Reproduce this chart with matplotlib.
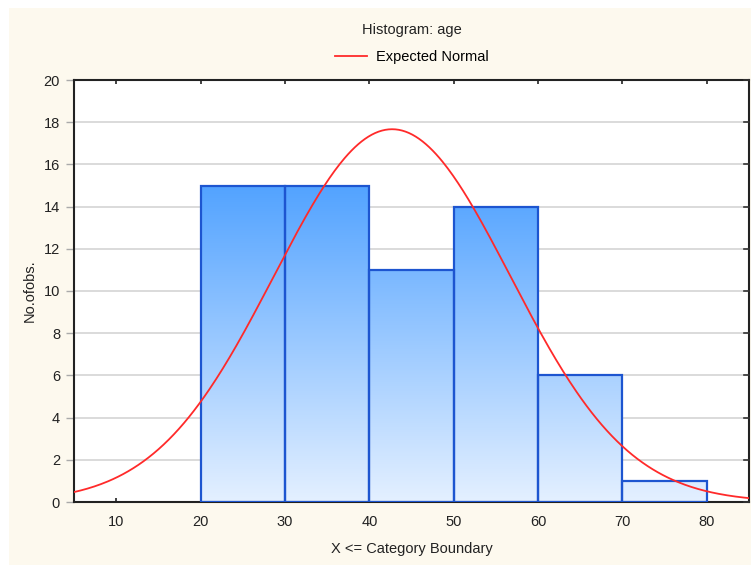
import numpy as np
import matplotlib
matplotlib.use("Agg")
import matplotlib.pyplot as plt
from matplotlib.patches import Rectangle
from matplotlib.colors import LinearSegmentedColormap

plt.rcParams['font.family'] = ['Liberation Sans', 'DejaVu Sans']

# Data
bin_edges = [20, 30, 40, 50, 60, 70, 80]
counts = [15, 15, 11, 14, 6, 1]
normal_mean = 42.7
normal_sd = 14.0
x_ticks = [10, 20, 30, 40, 50, 60, 70, 80]
y_ticks = [0, 2, 4, 6, 8, 10, 12, 14, 16, 18, 20]

W, H = 751, 568
fig = plt.figure(figsize=(W / 100, H / 100), dpi=100, facecolor='white')
# cream panel
fig.patches.append(Rectangle((9 / W, 1 - 565 / H), (W - 9) / W, (565 - 8) / H,
                             transform=fig.transFigure, facecolor='#FDF9EE',
                             edgecolor='none', zorder=-10))

left, right, top, bottom = 74, 749, 80, 502
ax = fig.add_axes([left / W, 1 - bottom / H, (right - left) / W, (bottom - top) / H])
ax.set_facecolor('white')
ax.set_xlim(5, 85)
ax.set_ylim(0, 20)

for y in y_ticks[1:-1]:
    ax.axhline(y, color='#D4D4D4', lw=1.2, zorder=0)

cmap = LinearSegmentedColormap.from_list('g', ['#E4F0FF', '#3A96FF'])
grad = np.linspace(0, 1, 256).reshape(-1, 1)
for i, c in enumerate(counts):
    x0, x1 = bin_edges[i], bin_edges[i + 1]
    rect = Rectangle((x0, 0), x1 - x0, c, facecolor='none', edgecolor='#1D55D0',
                     lw=1.6, zorder=3)
    ax.add_patch(rect)
    im = ax.imshow(grad, cmap=cmap, aspect='auto', origin='lower',
                   extent=(5, 85, 0, 17.5), zorder=2, interpolation='bilinear')
    clip = Rectangle((x0, 0), x1 - x0, c, transform=ax.transData)
    im.set_clip_path(clip)
ax.set_xlim(5, 85)
ax.set_ylim(0, 20)

xs = np.linspace(5, 85, 400)
binw = bin_edges[1] - bin_edges[0]
n = sum(counts)
ys = n * binw * np.exp(-(xs - normal_mean) ** 2 / (2 * normal_sd ** 2)) / (normal_sd * np.sqrt(2 * np.pi))
line, = ax.plot(xs, ys, color='#FF2A2A', lw=1.3, zorder=4, label='Expected Normal')

ax.set_xticks(x_ticks)
ax.set_yticks(y_ticks)
ax.tick_params(axis='x', direction='in', length=3, width=1.2, top=True, labelsize=10.5,
               colors='#222222', pad=9)
ax.tick_params(axis='y', direction='out', length=6, width=1, right=False, labelsize=10.5,
               colors='#222222', pad=4)
ax.yaxis.set_tick_params(color='#AAAAAA')
for y in y_ticks:
    ax.plot([1, 0.992], [y, y], transform=ax.get_yaxis_transform(), color='#333333',
            lw=1.2, zorder=5, clip_on=False)
for s in ax.spines.values():
    s.set_color('#222222')
    s.set_linewidth(1.5)

ax.set_xlabel('X <= Category Boundary', fontsize=10.5, color='#222222', labelpad=10)
ax.set_ylabel('No.ofobs.', fontsize=10.5, color='#222222', labelpad=5)

fig.text(0.5 * (left + right) / W + 0.0, 1 - 30 / H, 'Histogram: age', ha='center',
         va='center', fontsize=10.5, color='#222222')
fig.legend(handles=[line], loc='center', bbox_to_anchor=(0.5 * (left + right) / W, 1 - 57 / H),
           frameon=False, fontsize=10.5, handlelength=2.2, handletextpad=0.6)

fig.savefig('out.png', dpi=100, facecolor=fig.get_facecolor())
